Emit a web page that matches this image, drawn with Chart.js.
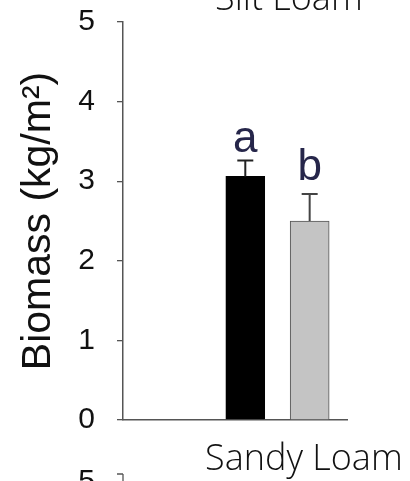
<!DOCTYPE html>
<html>
<head>
<meta charset="utf-8">
<script src="https://cdn.jsdelivr.net/npm/chart.js@4"></script>
<style>
  html, body { margin: 0; padding: 0; background: #fff; }
  #wrap { position: relative; width: 410px; height: 481px; overflow: hidden; background: #fff; }
  #biomass-chart { display: block; margin-top: -18px; }
  .panel-label {
    position: absolute;
    font-family: "Open Sans", "Noto Sans", sans-serif;
    font-weight: 300;
    font-size: 36px;
    line-height: 36px;
    color: #111;
    white-space: nowrap;
  }
</style>
</head>
<body>
<div id="wrap">
  <canvas id="biomass-chart" width="410" height="499"></canvas>
  <div class="panel-label" style="left: 215px; top: -21px;">Silt Loam</div>
  <div class="panel-label" style="left: 205px; top: 439px;">Sandy Loam</div>
</div>
<script>
/* Biomass by treatment, Sandy Loam panel */

const treatments = ['Treatment 1', 'Treatment 2'];
const biomass = [3.06, 2.50];
const biomassErr = [0.20, 0.34];
const letters = ['a', 'b'];
const yTicks = [0, 1, 2, 3, 4, 5];

const barFill = ['#000000', '#c4c4c4'];
const barEdge = ['#000000', '#555555'];

// error bars + significance letters, drawn from the scales
const errorBarPlugin = {
  id: 'errorBars',
  afterDatasetsDraw: function(chart) {
    const ctx = chart.ctx;
    const yScale = chart.scales.y;
    const meta = chart.getDatasetMeta(0);
    ctx.save();
    meta.data.forEach(function(bar, i) {
      const top = yScale.getPixelForValue(biomass[i] + biomassErr[i]);
      const base = yScale.getPixelForValue(biomass[i]);
      ctx.strokeStyle = i === 0 ? '#222' : '#444';
      ctx.lineWidth = 2;
      ctx.beginPath();
      ctx.moveTo(bar.x, base);
      ctx.lineTo(bar.x, top);
      ctx.moveTo(bar.x - 8, top);
      ctx.lineTo(bar.x + 8, top);
      ctx.stroke();

      ctx.fillStyle = '#26264a';
      ctx.font = '44px Arial, "Liberation Sans", sans-serif';
      ctx.textAlign = 'center';
      ctx.textBaseline = 'alphabetic';
      ctx.fillText(letters[i], bar.x, top - (i === 0 ? 9 : 14));
    });
    ctx.restore();
  }
};

// top edge of the next panel's y axis, cut off at the bottom of the figure
const nextPanelPlugin = {
  id: 'nextPanel',
  afterDraw: function(chart) {
    const ctx = chart.ctx;
    const left = chart.chartArea.left;
    const bottom = chart.chartArea.bottom;
    ctx.save();
    ctx.fillStyle = '#111';
    ctx.font = '30px Arial, "Liberation Sans", sans-serif';
    ctx.textAlign = 'right';
    ctx.textBaseline = 'alphabetic';
    ctx.fillText('5', 95, bottom + 70);
    ctx.strokeStyle = '#555';
    ctx.lineWidth = 1.3;
    ctx.beginPath();
    ctx.moveTo(left - 6, bottom + 54);
    ctx.lineTo(left, bottom + 54);
    ctx.moveTo(left, bottom + 54);
    ctx.lineTo(left, bottom + 70);
    ctx.stroke();
    ctx.restore();
  }
};

const whiteBg = {
  id: 'whiteBg',
  beforeDraw: function(chart) {
    const ctx = chart.ctx;
    ctx.save();
    ctx.fillStyle = '#fff';
    ctx.fillRect(0, 0, chart.width, chart.height);
    ctx.restore();
  }
};

new Chart(document.getElementById('biomass-chart'), {
  type: 'bar',
  data: {
    labels: treatments,
    datasets: [{
      label: 'Biomass',
      data: biomass.map(function(v, i) { return { x: i + 1, y: v }; }),
      backgroundColor: barFill,
      borderColor: barEdge,
      borderWidth: 1,
      borderSkipped: 'bottom',
      barThickness: 39
    }]
  },
  options: {
    responsive: false,
    animation: false,
    devicePixelRatio: 1,
    layout: { padding: { top: 0, right: 63, bottom: 60, left: 0 } },
    plugins: {
      legend: { display: false },
      tooltip: { enabled: false }
    },
    scales: {
      x: {
        type: 'linear',
        offset: false,
        min: -0.9,
        max: 2.58,
        grid: { display: false },
        border: { display: true, color: '#555', width: 1.5 },
        ticks: { display: false },
        afterFit: function(s) { s.height = 1; }
      },
      y: {
        min: 0,
        max: 5,
        afterBuildTicks: function(s) { s.ticks = yTicks.map(function(v) { return { value: v }; }); },
        grid: { display: true, drawOnChartArea: false, drawTicks: true, tickLength: 6, color: '#555', lineWidth: 1.3 },
        border: { display: true, color: '#555', width: 1.5 },
        ticks: {
          color: '#111',
          padding: 22,
          font: { family: 'Arial, "Liberation Sans", sans-serif', size: 30 }
        },
        title: {
          display: true,
          text: 'Biomass (kg/m²)',
          color: '#111',
          padding: { top: 14, bottom: 0 },
          font: { family: 'Arial, "Liberation Sans", sans-serif', size: 41 }
        },
        afterFit: function(s) { s.width = 123; }
      }
    }
  },
  plugins: [whiteBg, errorBarPlugin, nextPanelPlugin]
});
</script>
</body>
</html>
